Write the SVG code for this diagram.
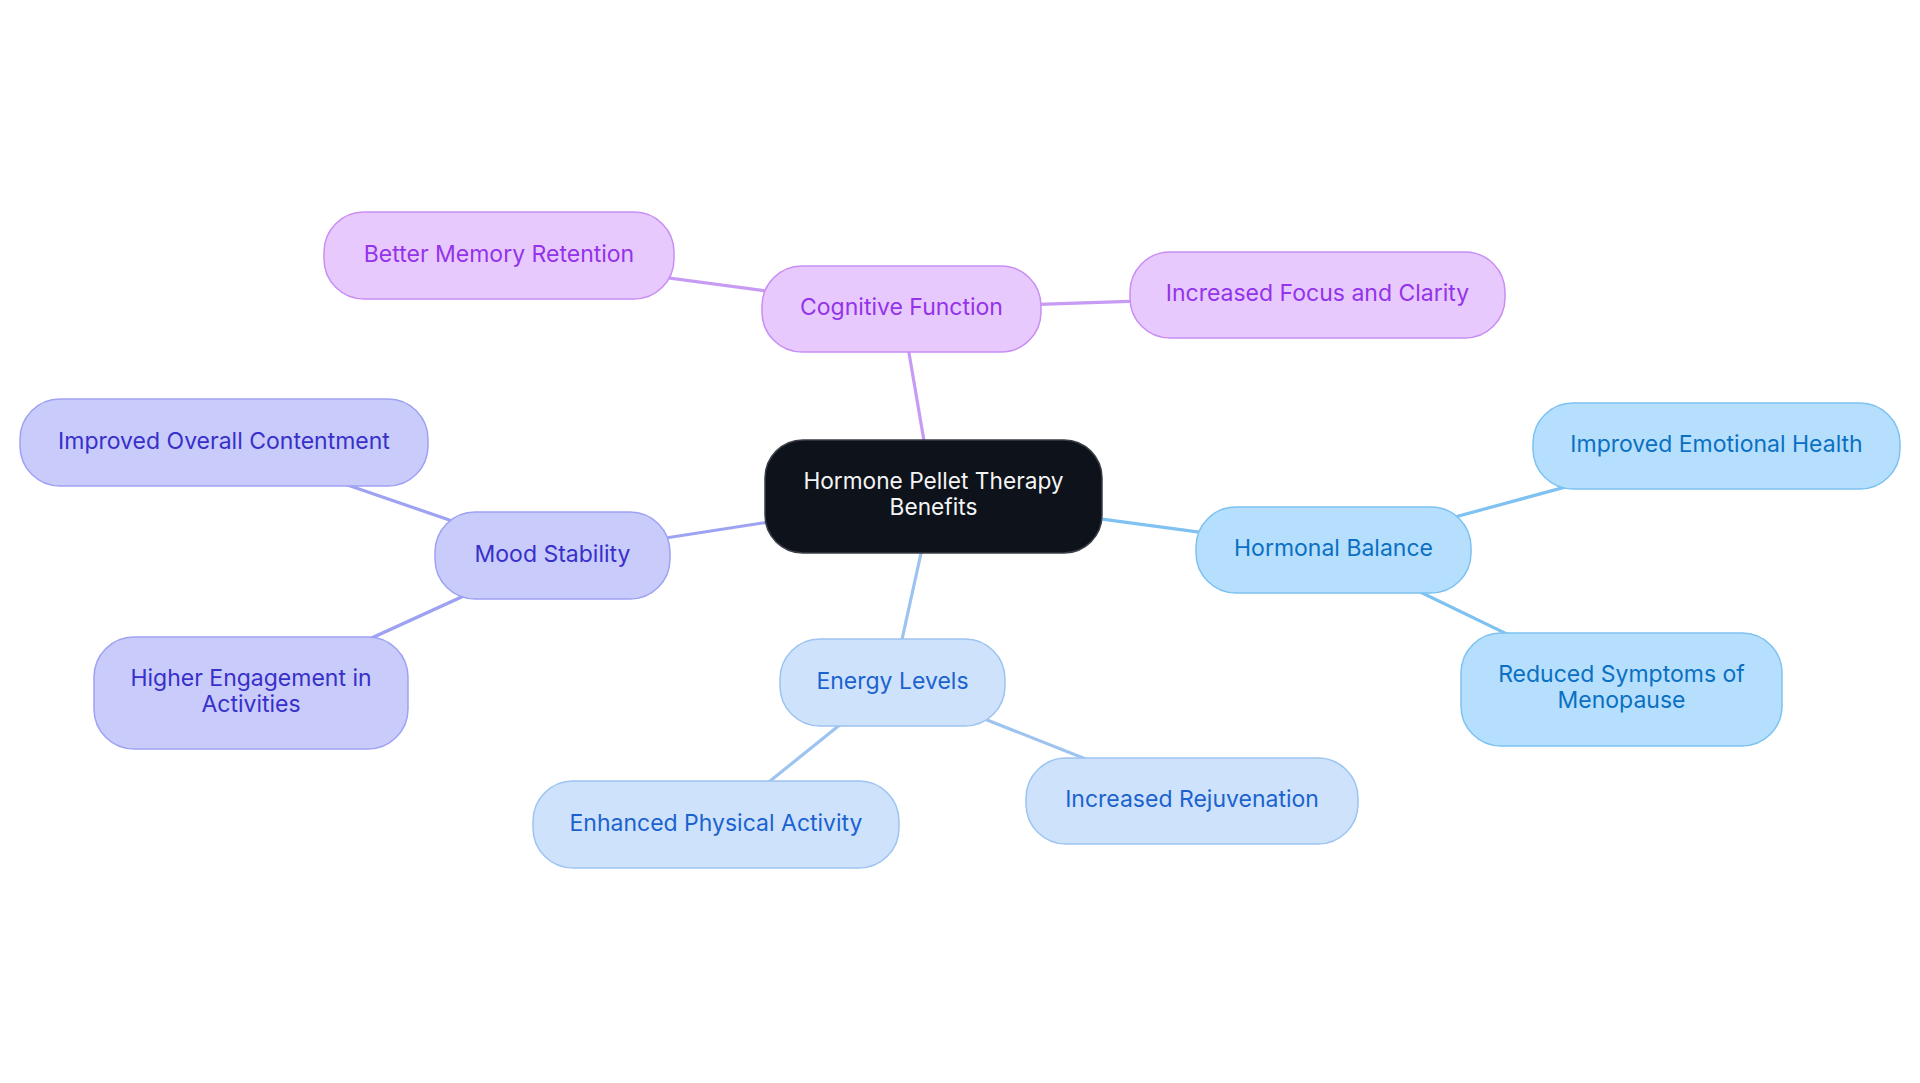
<svg xmlns="http://www.w3.org/2000/svg" width="1920" height="1083" viewBox="0 0 1920 1083">
<style>
text{font-family:Inter,"Open Sans","Liberation Sans",sans-serif;font-size:23px;text-anchor:middle}
.c{fill:#0D121B;stroke:#3A3E46;stroke-width:1.5}
.ct{fill:#F4F4F5;font-size:22.7px}
.p{fill:#E8C9FD;stroke:#C88EF3;stroke-width:1.5}
.pt{fill:#9333EA}
.m{fill:#C9CBFB;stroke:#9EA2F2;stroke-width:1.5}
.mt{fill:#3730C9}
.s{fill:#B5DFFD;stroke:#7DC2F1;stroke-width:1.5}
.st{fill:#0B70C2}
.b{fill:#CEE3FB;stroke:#9DC4F1;stroke-width:1.5}
.bt{fill:#1B62CF}
.l{stroke-width:3.2;fill:none}
</style>
<rect width="1920" height="1083" fill="#FFFFFF"/>
<g id="connectors">
<line class="l" stroke="#C79AF4" x1="933.5" y1="496.5" x2="901.5" y2="309"/>
<line class="l" stroke="#C79AF4" x1="901.5" y1="309" x2="499" y2="255.5"/>
<line class="l" stroke="#C79AF4" x1="901.5" y1="309" x2="1317.5" y2="295"/>
<line class="l" stroke="#7FC1F1" x1="933.5" y1="496.5" x2="1333.5" y2="550"/>
<line class="l" stroke="#7FC1F1" x1="1333.5" y1="550" x2="1716.5" y2="446"/>
<line class="l" stroke="#7FC1F1" x1="1333.5" y1="550" x2="1621.5" y2="689.5"/>
<line class="l" stroke="#9DC4F1" x1="933.5" y1="496.5" x2="892.5" y2="682.5"/>
<line class="l" stroke="#9DC4F1" x1="892.5" y1="682.5" x2="716" y2="824.5"/>
<line class="l" stroke="#9DC4F1" x1="892.5" y1="682.5" x2="1192" y2="801"/>
<line class="l" stroke="#9EA2F2" x1="933.5" y1="496.5" x2="552.5" y2="555.5"/>
<line class="l" stroke="#9EA2F2" x1="552.5" y1="555.5" x2="224" y2="442.5"/>
<line class="l" stroke="#9EA2F2" x1="552.5" y1="555.5" x2="251" y2="693"/>
</g>
<g id="central">
<rect class="c" x="765" y="440" width="337" height="113" rx="38"/>
<text class="ct" x="933.5" y="489">Hormone Pellet Therapy</text>
<text class="ct" x="933.5" y="515">Benefits</text>
</g>
<g id="cognitive-function">
<rect class="p" x="762" y="266" width="279" height="86" rx="40"/>
<text class="pt" x="901.5" y="315">Cognitive Function</text>
</g>
<g id="better-memory-retention">
<rect class="p" x="324" y="212" width="350" height="87" rx="40"/>
<text class="pt" x="499" y="261.5">Better Memory Retention</text>
</g>
<g id="increased-focus">
<rect class="p" x="1130" y="252" width="375" height="86" rx="40"/>
<text class="pt" x="1317.5" y="301">Increased Focus and Clarity</text>
</g>
<g id="hormonal-balance">
<rect class="s" x="1196" y="507" width="275" height="86" rx="40"/>
<text class="st" x="1333.5" y="556">Hormonal Balance</text>
</g>
<g id="improved-emotional-health">
<rect class="s" x="1533" y="403" width="367" height="86" rx="40"/>
<text class="st" x="1716.5" y="452">Improved Emotional Health</text>
</g>
<g id="reduced-symptoms">
<rect class="s" x="1461" y="633" width="321" height="113" rx="40"/>
<text class="st" x="1621.5" y="682">Reduced Symptoms of</text>
<text class="st" x="1621.5" y="708">Menopause</text>
</g>
<g id="energy-levels">
<rect class="b" x="780" y="639" width="225" height="87" rx="40"/>
<text class="bt" x="892.5" y="688.5">Energy Levels</text>
</g>
<g id="enhanced-physical-activity">
<rect class="b" x="533" y="781" width="366" height="87" rx="40"/>
<text class="bt" x="716" y="830.5">Enhanced Physical Activity</text>
</g>
<g id="increased-rejuvenation">
<rect class="b" x="1026" y="758" width="332" height="86" rx="40"/>
<text class="bt" x="1192" y="807">Increased Rejuvenation</text>
</g>
<g id="mood-stability">
<rect class="m" x="435" y="512" width="235" height="87" rx="40"/>
<text class="mt" x="552.5" y="561.5">Mood Stability</text>
</g>
<g id="improved-overall-contentment">
<rect class="m" x="20" y="399" width="408" height="87" rx="40"/>
<text class="mt" x="224" y="448.5">Improved Overall Contentment</text>
</g>
<g id="higher-engagement">
<rect class="m" x="94" y="637" width="314" height="112" rx="40"/>
<text class="mt" x="251" y="685.5">Higher Engagement in</text>
<text class="mt" x="251" y="711.5">Activities</text>
</g>
</svg>
